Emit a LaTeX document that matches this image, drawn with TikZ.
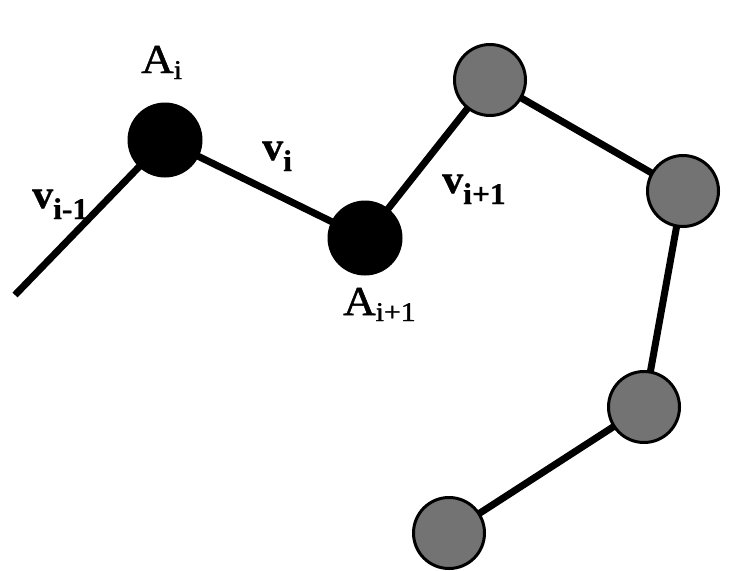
\documentclass[tikz,border=0pt]{standalone}
\usepackage{fontspec}
\setmainfont{Liberation Serif}
% heavier, slightly wider faces for the labels
\newfontfamily\atomfont[FakeBold=1.2,FakeStretch=1.1]{Liberation Serif}
\newfontfamily\vecfont[FakeBold=0.8,FakeStretch=1.05,BoldFont={Liberation Serif Bold}]{Liberation Serif Bold}
% bond-vector label: bold v with a bold, lowered subscript
\newcommand{\vlab}[1]{{\vecfont\fontsize{40}{40}\selectfont v}\raisebox{-11pt}{\vecfont\fontsize{30}{30}\selectfont #1}}
% atom label: roman A with a lowered subscript
\newcommand{\alab}[1]{{\atomfont\fontsize{41}{41}\selectfont A}\raisebox{-6pt}{\atomfont\fontsize{27}{27}\selectfont #1}}
\begin{document}
\begin{tikzpicture}[x=1pt,y=-1pt,
  bond/.style={line width=7pt},
  atom/.style={circle,fill=black,minimum size=75pt,inner sep=0pt},
  ghost/.style={circle,draw=black,line width=3pt,fill=black!55,minimum size=71pt,inner sep=0pt},
  lbl/.style={inner sep=0pt,anchor=base west}]
\useasboundingbox (0,0) rectangle (743,570);
% free end of the incoming bond
\coordinate (s) at (15,295);
% node positions of the chain
\coordinate (p1) at (165,140);
\coordinate (p2) at (365,238);
\coordinate (p3) at (490,80);
\coordinate (p4) at (683,191);
\coordinate (p5) at (644,407);
\coordinate (p6) at (449,533);
% bonds
\draw[bond] (s) -- (p1) -- (p2) -- (p3) -- (p4) -- (p5) -- (p6);
% atoms on top of the bonds
\node[atom] (a1) at (p1) {};
\node[atom] (a2) at (p2) {};
\node[ghost] (g1) at (p3) {};
\node[ghost] (g2) at (p4) {};
\node[ghost] (g3) at (p5) {};
\node[ghost] (g4) at (p6) {};
% labels
\node[lbl] (la1) at (141,73) {\alab{i}};
\node[lbl] (la2) at (343,315) {\alab{i+1}};
\node[lbl] (lv0) at (32,208) {\vlab{i-1}};
\node[lbl] (lv1) at (262,160) {\vlab{i}};
\node[lbl] (lv2) at (442,193) {\vlab{i+1}};
\end{tikzpicture}
\end{document}
